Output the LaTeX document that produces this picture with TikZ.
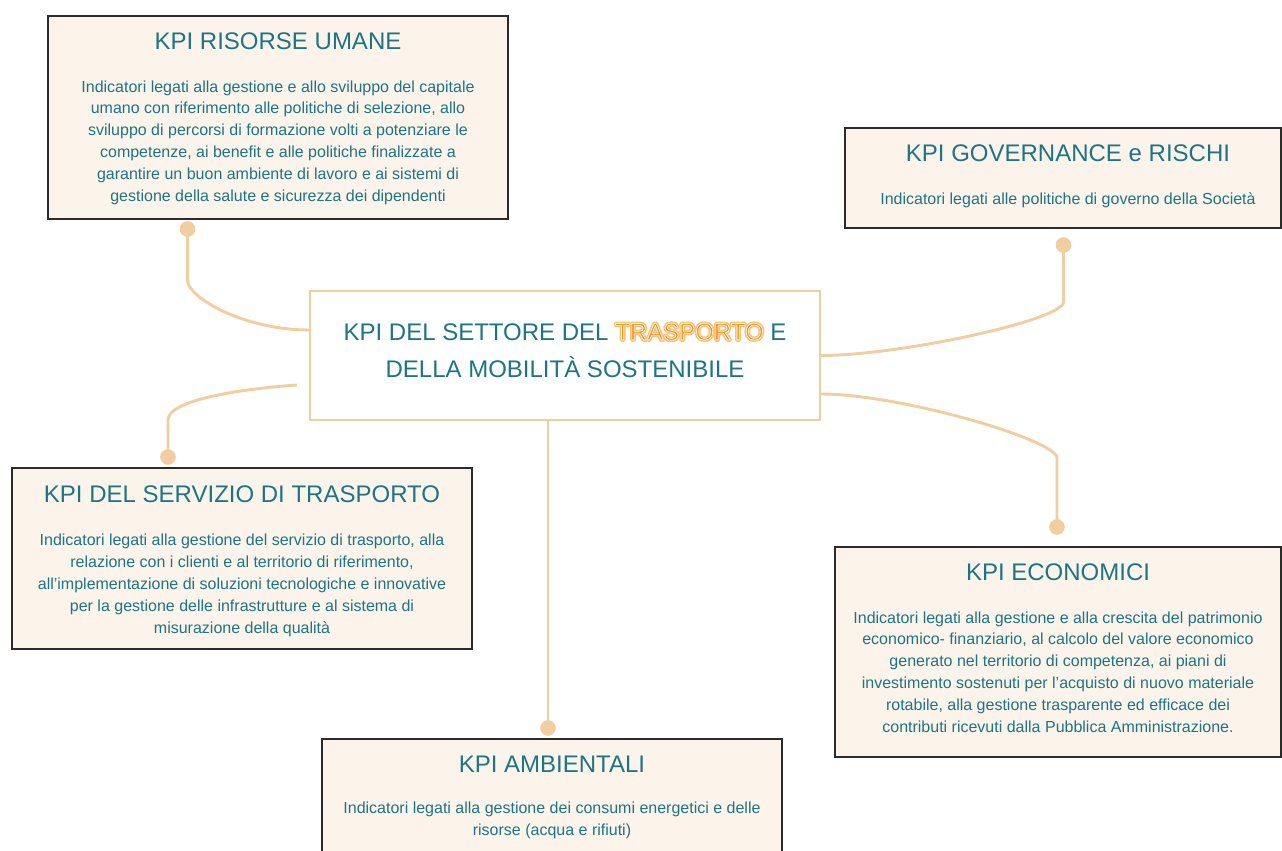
\documentclass[tikz,border=0pt]{standalone}
\usepackage{fontspec}
\setmainfont{Liberation Sans}
\usetikzlibrary{calc}
\definecolor{kpiText}{HTML}{1D7584}
\definecolor{kpiFill}{HTML}{FCF4EA}
\definecolor{kpiBorder}{HTML}{2B2B2B}
\definecolor{kpiLine}{HTML}{F1CE9F}
\definecolor{kpiOrange}{HTML}{F7941E}
\definecolor{kpiGlow}{HTML}{F9C27A}
\newcommand{\glw}[1]{%
  \leavevmode
  \rlap{\textcolor{kpiGlow}{\special{pdf:literal direct 2 Tr 2.8 w 1 j 0.976 0.76 0.478 RG}#1\special{pdf:literal direct 0 Tr}}}%
  \textcolor{kpiOrange}{\special{pdf:literal direct 2 Tr 0.45 w 1 j 1 1 1 RG}#1\special{pdf:literal direct 0 Tr 0.4 w}}}
\begin{document}
\begin{tikzpicture}[x=0.75pt,y=-0.75pt,
  kbox/.style={draw=kpiBorder, line width=0.8pt, fill=kpiFill, rectangle, inner sep=0pt},
  cbox/.style={draw=kpiLine, line width=1.6pt, fill=white, rectangle, inner sep=0pt},
  ktitle/.style={text=kpiText, font=\fontsize{18}{21}\selectfont, anchor=base, inner sep=0pt},
  kbody/.style={text=kpiText, font=\fontsize{12}{16.35}\selectfont, align=center, anchor=base, inner sep=0pt},
  ctext/.style={text=kpiText, font=\fontsize{18}{27.75}\selectfont, align=center, anchor=base, inner sep=0pt},
  conn/.style={draw=kpiLine, line width=2.2pt},
  kdot/.style={circle, fill=kpiLine, minimum size=11.5pt, inner sep=0pt}]
\useasboundingbox (0,0) rectangle (1282,850);
\clip (0,0) rectangle (1282,850);

% boxes
\node[kbox, minimum width=345pt, minimum height=152.25pt] (risorse) at (278,117.5) {};
\node[kbox, minimum width=327pt, minimum height=75pt] (gov) at (1063,178) {};
\node[kbox, minimum width=345pt, minimum height=135.75pt] (servizio) at (242,558.5) {};
\node[kbox, minimum width=334.5pt, minimum height=157.5pt] (econ) at (1058,652) {};
\node[kbox, minimum width=345pt, minimum height=98.25pt] (amb) at (552,804.5) {};

% dots
\node[kdot] (d1) at (187.5,229) {};
\node[kdot] (d2) at (1063.5,245) {};
\node[kdot] (d3) at (168,457) {};
\node[kdot] (d4) at (1057,527) {};
\node[kdot] (d5) at (548,728) {};

% center box
\node[cbox, minimum width=382.5pt, minimum height=96.75pt] (center) at (565,355.5) {};

% connectors
\draw[conn] (d1.center) -- (187.5,280) .. controls (187.5,298) and (245,330) .. ($(center.west)+(0,-25.5)$);
\draw[conn] (d2.center) -- (1063.5,302) .. controls (1063.5,320) and (900,355.5) .. (center.east);
\draw[conn] ($(center.west)+(-12,29.5)$) .. controls (240,389) and (168,400) .. (168,420) -- (d3.center);
\draw[conn] ($(center.east)+(0,38.5)$) .. controls (900,394) and (1057,440) .. (1057,458) -- (d4.center);
\draw[conn] (d5 |- center.south) -- (d5.center);
\foreach \d in {d1,d2,d3,d4,d5} \node[kdot] at (\d) {};

% texts (anchor base = baseline of last line)
\node[ktitle] (t1) at (278,49) {KPI RISORSE UMANE};
\node[kbody] (b1) at (278,201) {Indicatori legati alla gestione e allo sviluppo del capitale\\umano con riferimento alle politiche di selezione, allo\\sviluppo di percorsi di formazione volti a potenziare le\\competenze, ai benefit e alle politiche finalizzate a\\garantire un buon ambiente di lavoro e ai sistemi di\\gestione della salute e sicurezza dei dipendenti};

\node[ktitle] (t2) at (1068,161) {KPI GOVERNANCE e RISCHI};
\node[kbody] (b2) at (1068,204) {Indicatori legati alle politiche di governo della Società};

\node[ktitle] (t3) at (242,502) {KPI DEL SERVIZIO DI TRASPORTO};
\node[kbody] (b3) at (242,633) {Indicatori legati alla gestione del servizio di trasporto, alla\\relazione con i clienti e al territorio di riferimento,\\all’implementazione di soluzioni tecnologiche e innovative\\per la gestione delle infrastrutture e al sistema di\\misurazione della qualità};

\node[ktitle] (t4) at (1058,580) {KPI ECONOMICI};
\node[kbody] (b4) at (1058,732) {Indicatori legati alla gestione e alla crescita del patrimonio\\economico- finanziario, al calcolo del valore economico\\generato nel territorio di competenza, ai piani di\\investimento sostenuti per l’acquisto di nuovo materiale\\rotabile, alla gestione trasparente ed efficace dei\\contributi ricevuti dalla Pubblica Amministrazione.};

\node[ktitle] (t5) at (552,772) {KPI AMBIENTALI};
\node[kbody] (b5) at (552,835) {Indicatori legati alla gestione dei consumi energetici e delle\\risorse (acqua e rifiuti)};

\node[ctext] (ct) at (565,377) {KPI DEL SETTORE DEL \glw{TRASPORTO} E\\DELLA MOBILITÀ SOSTENIBILE};
\end{tikzpicture}
\end{document}
